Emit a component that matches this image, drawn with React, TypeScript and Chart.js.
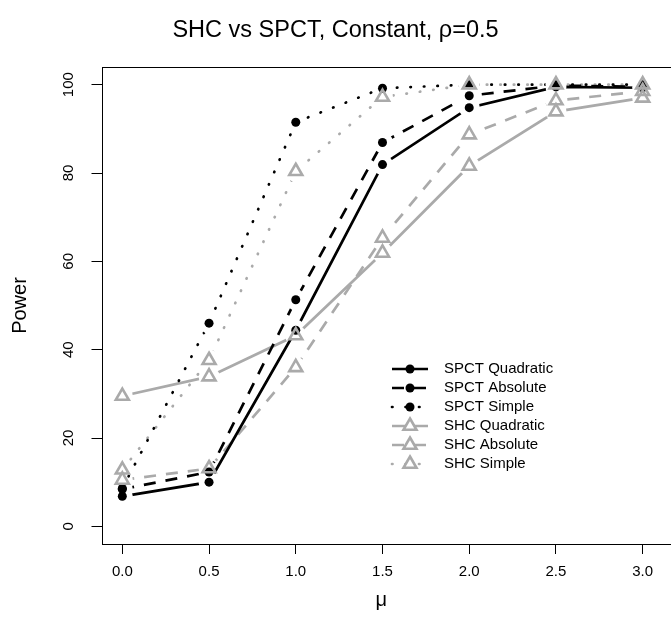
import React, { useEffect, useRef } from "react";
import { Chart, registerables } from "chart.js";

Chart.register(...registerables);

// ---- data ----
const muValues = [0, 0.5, 1, 1.5, 2, 2.5, 3];
const xTickValues = [0, 0.5, 1, 1.5, 2, 2.5, 3];
const yTickValues = [0, 20, 40, 60, 80, 100];

const spctQuadratic = [6.8, 10.0, 44.4, 81.9, 94.8, 99.5, 99.3];
const spctAbsolute = [8.4, 12.3, 51.3, 86.9, 97.5, 99.8, 99.5];
const spctSimple = [8.6, 46.0, 91.5, 99.2, 100, 100, 100];
const shcQuadratic = [29.5, 33.9, 43.2, 61.9, 81.6, 93.9, 97.0];
const shcAbsolute = [10.5, 13.1, 36.0, 65.3, 88.7, 96.4, 98.5];
const shcSimple = [12.8, 37.6, 80.4, 97.2, 100, 100, 100];

const seriesNames = [
  "SPCT Quadratic",
  "SPCT Absolute",
  "SPCT Simple",
  "SHC Quadratic",
  "SHC Absolute",
  "SHC Simple",
];
const seriesValues = [spctQuadratic, spctAbsolute, spctSimple, shcQuadratic, shcAbsolute, shcSimple];

const titleText = "SHC vs SPCT, Constant, \u03C1=0.5";
const xTitle = "\u03BC";
const yTitle = "Power";

// ---- styles ----
const BLACK = "#000000";
const GREY = "#aaaaaa";
const DASH = [12, 10];
const DOT = [0.5, 13];
const FONT = "'Liberation Sans', Arial, Helvetica, sans-serif";

type Style = { color: string; dash: number[]; cap: CanvasLineCap; marker: "circle" | "triangle" };
const seriesStyles: Style[] = [
  { color: BLACK, dash: [], cap: "butt", marker: "circle" },
  { color: BLACK, dash: DASH, cap: "butt", marker: "circle" },
  { color: BLACK, dash: DOT, cap: "round", marker: "circle" },
  { color: GREY, dash: [], cap: "butt", marker: "triangle" },
  { color: GREY, dash: DASH, cap: "butt", marker: "triangle" },
  { color: GREY, dash: DOT, cap: "round", marker: "triangle" },
];

const LINE_W = 2.7;
const CIRCLE_R = 4.5;
const TRI_R = 7.5;
const TRI_W = 2.6;
const GAP_R = 10.5;

function markerProps(s: Style) {
  if (s.marker === "circle") {
    return {
      pointStyle: "circle",
      pointRadius: CIRCLE_R,
      pointBackgroundColor: s.color,
      pointBorderColor: s.color,
      pointBorderWidth: 0,
    };
  }
  return {
    pointStyle: "triangle",
    pointRadius: TRI_R,
    pointBackgroundColor: "rgba(0,0,0,0)",
    pointBorderColor: s.color,
    pointBorderWidth: TRI_W,
  };
}

// type="b" style: leave a gap in each line around its own points
const gapPlugin = {
  id: "gapClip",
  beforeDatasetDraw(chart: any, args: any) {
    const ds = chart.data.datasets[args.index];
    if (!ds || !ds.gapRadius) return;
    const ctx = chart.ctx as CanvasRenderingContext2D;
    const r = ds.gapRadius;
    const xs = chart.scales.x;
    const ys = chart.scales.y;
    const path = new Path2D();
    path.rect(0, 0, chart.width, chart.height);
    for (const pt of ds.data) {
      const px = xs.getPixelForValue(pt.x);
      const py = ys.getPixelForValue(pt.y);
      path.moveTo(px + r, py);
      path.arc(px, py, r, 0, Math.PI * 2, true);
    }
    ctx.save();
    ctx.clip(path, "evenodd");
  },
  afterDatasetDraw(chart: any, args: any) {
    const ds = chart.data.datasets[args.index];
    if (!ds || !ds.gapRadius) return;
    chart.ctx.restore();
  },
};

const boxPlugin = {
  id: "plotBox",
  afterDatasetsDraw(chart: any) {
    const { ctx, chartArea } = chart;
    ctx.save();
    ctx.strokeStyle = "#000";
    ctx.lineWidth = 1;
    ctx.strokeRect(
      Math.round(chartArea.left) + 0.5,
      Math.round(chartArea.top) + 0.5,
      chartArea.right - chartArea.left + 10,
      Math.round(chartArea.bottom - chartArea.top)
    );
    ctx.restore();
  },
};

const legendPlugin = {
  id: "customLegend",
  afterDraw(chart: any) {
    const ctx = chart.ctx;
    const x0 = 392;
    const x1 = 428;
    const xm = 410;
    const xt = 444;
    const y0 = 369;
    const dy = 19;
    ctx.save();
    seriesNames.forEach((name, i) => {
      const s = seriesStyles[i];
      const y = y0 + i * dy;
      ctx.strokeStyle = s.color;
      ctx.lineWidth = LINE_W;
      ctx.lineCap = s.cap;
      ctx.setLineDash(s.dash);
      ctx.beginPath();
      ctx.moveTo(x0, y);
      ctx.lineTo(x1, y);
      ctx.stroke();
      ctx.setLineDash([]);
      ctx.lineCap = "butt";
      if (s.marker === "circle") {
        ctx.fillStyle = s.color;
        ctx.beginPath();
        ctx.arc(xm, y, CIRCLE_R, 0, Math.PI * 2);
        ctx.fill();
      } else {
        ctx.fillStyle = "#fff";
        ctx.strokeStyle = s.color;
        ctx.lineWidth = TRI_W;
        ctx.beginPath();
        for (let k = 0; k < 3; k++) {
          const a = (k * 2 * Math.PI) / 3;
          const px = xm + Math.sin(a) * TRI_R;
          const py = y - Math.cos(a) * TRI_R;
          if (k === 0) ctx.moveTo(px, py);
          else ctx.lineTo(px, py);
        }
        ctx.closePath();
        ctx.fill();
        ctx.stroke();
      }
      ctx.fillStyle = "#000";
      ctx.font = `15px ${FONT}`;
      ctx.textAlign = "left";
      ctx.textBaseline = "middle";
      ctx.fillText(name, xt, y);
    });
    ctx.restore();
  },
};

export default function App() {
  const canvasRef = useRef<HTMLCanvasElement | null>(null);

  useEffect(() => {
    const canvas = canvasRef.current;
    if (!canvas) return;
    Chart.defaults.font.family = FONT;
    Chart.defaults.color = "#000";

    const lineSets = seriesValues.map((vals, i) => {
      const s = seriesStyles[i];
      return {
        label: seriesNames[i] + " line",
        data: muValues.map((m, k) => ({ x: m, y: vals[k] })),
        showLine: true,
        borderColor: s.color,
        borderWidth: LINE_W,
        borderDash: s.dash,
        borderCapStyle: s.cap,
        pointRadius: 0,
        tension: 0,
        fill: false,
        order: 10,
        gapRadius: GAP_R,
      } as any;
    });
    const pointSets = seriesValues.map((vals, i) => {
      const s = seriesStyles[i];
      return {
        label: seriesNames[i],
        data: muValues.map((m, k) => ({ x: m, y: vals[k] })),
        showLine: false,
        borderColor: s.color,
        ...markerProps(s),
        order: s.marker === "circle" ? 5 : 1,
      } as any;
    });

    const chart = new Chart(canvas, {
      type: "scatter",
      data: { datasets: [...lineSets, ...pointSets] },
      plugins: [gapPlugin, boxPlugin, legendPlugin],
      options: {
        animation: false,
        responsive: false,
        events: [],
        layout: { padding: 0 },
        plugins: {
          legend: { display: false },
          tooltip: { enabled: false },
          title: {
            display: true,
            text: titleText,
            color: "#000",
            font: { size: 23.5, weight: "normal", family: FONT },
            padding: { top: 16, bottom: 22.8 },
          },
        },
        scales: {
          x: {
            type: "linear",
            min: -0.12,
            max: 3.105,
            afterBuildTicks: (scale: any) => {
              scale.ticks = xTickValues.map((v) => ({ value: v }));
            },
            afterFit: (scale: any) => {
              scale.height = 74;
            },
            ticks: {
              callback: (v: any) => Number(v).toFixed(1),
              font: { size: 15, family: FONT },
              color: "#000",
              padding: 9,
              maxRotation: 0,
              autoSkip: false,
            },
            grid: {
              display: true,
              drawOnChartArea: false,
              drawTicks: true,
              tickLength: 10,
              color: "#000",
              lineWidth: 1,
            },
            border: { display: false },
            title: {
              display: true,
              text: xTitle,
              color: "#000",
              font: { size: 20, family: FONT },
              padding: { top: 0, bottom: 6 },
            },
          },
          y: {
            type: "linear",
            min: -4,
            max: 104,
            afterBuildTicks: (scale: any) => {
              scale.ticks = yTickValues.map((v) => ({ value: v }));
            },
            afterFit: (scale: any) => {
              scale.width = 101.5;
            },
            ticks: {
              callback: (v: any) => String(v),
              font: { size: 15, family: FONT },
              color: "#000",
              padding: 10,
              minRotation: 90,
              maxRotation: 90,
              crossAlign: "center",
              autoSkip: false,
            },
            grid: {
              display: true,
              drawOnChartArea: false,
              drawTicks: true,
              tickLength: 10,
              color: "#000",
              lineWidth: 1,
            },
            border: { display: false },
            title: {
              display: true,
              text: yTitle,
              color: "#000",
              font: { size: 20, family: FONT },
              padding: { top: 8, bottom: 0 },
            },
          },
        },
      } as any,
    });
    return () => chart.destroy();
  }, []);

  return (
    <div style={{ position: "absolute", left: 0, top: 0, width: 671, height: 618, background: "#fff" }}>
      <canvas ref={canvasRef} width={671} height={618} style={{ display: "block" }} />
    </div>
  );
}
